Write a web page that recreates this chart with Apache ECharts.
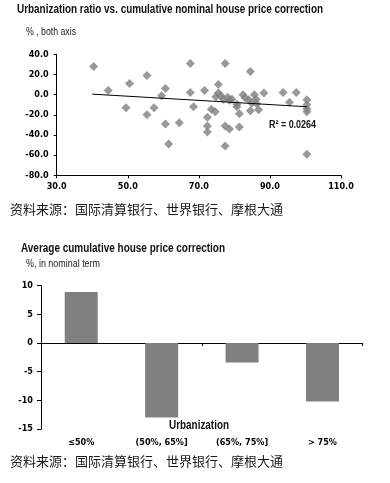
<!DOCTYPE html>
<html>
<head>
<meta charset="utf-8">
<script src="https://cdn.jsdelivr.net/npm/echarts@6/dist/echarts.min.js"></script>
<style>
html,body{margin:0;padding:0;background:#fff;}
#chart{width:390px;height:483px;}
</style>
</head>
<body>
<div id="chart"></div>
<script>
// Scatter: urbanization ratio (%) vs cumulative nominal house price correction (%)
const scatterPoints = [
  [40.4, 28], [44.5, 4], [49.5, -13], [50.5, 11], [55.4, 19], [55.4, -20],
  [57.4, -13], [59.5, -1], [60.6, 6], [60.6, -29], [61.5, -49], [64.5, -28],
  [67.6, 31], [67.6, 2], [68.5, -12], [71.6, 4], [72.4, -22.5], [72.4, -31],
  [72.4, -37], [73.5, -14.5], [74.6, -17], [75.5, 10], [75.5, 1.5], [74.8, -2],
  [76.2, -1], [76.9, -4.5], [78.1, -2.5], [79.3, -4.5], [78.6, -5.5], [77.4, 31],
  [77.4, -31], [78.6, -34], [77.4, -51], [80.7, -9.5], [80.7, -12], [81.4, -19],
  [81.4, -32], [82.4, 0], [83, -3], [84, -5], [84.9, -8.5], [84.5, 23],
  [84.5, -16], [85.6, 0], [86.1, -4.5], [86.3, -9], [86.8, -15], [88.3, 1.5],
  [93.7, 2], [95.5, -7.5], [97.4, 2], [100.4, -5], [100.4, -10], [100.4, -14],
  [100.4, -17], [100.4, -59]
];
const trendLine = [[40, 0.5], [100.4, -12]];
const rSquaredText = 'R\u00B2 = 0.0264';

// Bar chart: average cumulative house price correction by urbanization bucket
const barCategories = ['\u226450%', '(50%, 65%]', '(65%, 75%]', '> 75%'];
const barValues = [8.9, -13.0, -3.4, -10.2];

const AXFONT = "'DejaVu Sans Condensed','Liberation Sans',sans-serif";
const TFONT = "'Liberation Sans','Arial',sans-serif";
const CJK = "'Noto Sans CJK SC','Noto Sans',sans-serif";
const sourceText = '资料来源：国际清算银行、世界银行、摩根大通';

const measureCtx = document.createElement('canvas').getContext('2d');
// Narrow text element: horizontally scaled to the target width of the reference
function narrowText(text, x, y, font, targetWidth, fill, align) {
  measureCtx.font = font;
  const w = measureCtx.measureText(text).width;
  const s = targetWidth / w;
  return {
    type: 'text', x: x, y: y, scaleX: s, scaleY: 1,
    style: {text: text, font: font, fill: fill, align: align || 'left', verticalAlign: 'middle'}
  };
}

const chart = echarts.init(document.getElementById('chart'), null, {renderer: 'canvas'});

const axisLabelBold = {color: '#000', fontFamily: AXFONT, fontWeight: 'bold', fontSize: 9};

chart.setOption({
  animation: false,
  backgroundColor: '#fff',
  title: [
    {text: sourceText, left: 10, top: 203, padding: 0,
     textStyle: {fontFamily: CJK, fontWeight: 'normal', fontSize: 13, color: '#1a1a1a'}},
    {text: sourceText, left: 10, top: 455, padding: 0,
     textStyle: {fontFamily: CJK, fontWeight: 'normal', fontSize: 13, color: '#1a1a1a'}}
  ],
  graphic: [
    narrowText('Urbanization ratio vs. cumulative nominal house price correction', 17, 10, 'bold 12px ' + TFONT, 306, '#111'),
    narrowText('% , both axis', 26, 32, '10px ' + TFONT, 50, '#222'),
    narrowText('Average cumulative house price correction', 21, 249, 'bold 12px ' + TFONT, 204, '#111'),
    narrowText('%, in nominal term', 26, 264.5, '10px ' + TFONT, 74, '#222'),
    narrowText('Urbanization', 169, 426, 'bold 12px ' + TFONT, 60, '#111'),
    narrowText(rSquaredText, 269, 125, 'bold 11px ' + TFONT, 47, '#111')
  ],
  grid: [
    {left: 56.7, top: 54.3, width: 284.3, height: 121},
    {left: 41, top: 285.7, width: 321.7, height: 143.3}
  ],
  xAxis: [
    {gridIndex: 0, type: 'value', min: 30, max: 110, interval: 20,
     axisLine: {show: true, onZero: false, lineStyle: {color: '#000', width: 1}},
     axisTick: {show: true, length: 3, lineStyle: {color: '#000'}},
     axisLabel: Object.assign({margin: 7, formatter: v => v.toFixed(1)}, axisLabelBold),
     splitLine: {show: false}},
    {gridIndex: 1, type: 'category', data: barCategories, position: 'bottom',
     axisLine: {show: true, onZero: true, lineStyle: {color: '#000', width: 1}},
     axisTick: {show: true, length: 3, lineStyle: {color: '#000'}},
     axisLabel: {show: false}, splitLine: {show: false}},
    {gridIndex: 1, type: 'category', data: barCategories, position: 'bottom',
     axisLine: {show: false, onZero: false}, axisTick: {show: false},
     axisLabel: Object.assign({margin: 9}, axisLabelBold), splitLine: {show: false}}
  ],
  yAxis: [
    {gridIndex: 0, type: 'value', min: -80, max: 40, interval: 20,
     axisLine: {show: true, onZero: false, lineStyle: {color: '#000', width: 1}},
     axisTick: {show: true, length: 3, lineStyle: {color: '#000'}},
     axisLabel: Object.assign({margin: 8, formatter: v => v.toFixed(1)}, axisLabelBold),
     splitLine: {show: false}},
    {gridIndex: 1, type: 'value', min: -15, max: 10, interval: 5,
     axisLine: {show: true, onZero: false, lineStyle: {color: '#000', width: 1}},
     axisTick: {show: true, length: 4, lineStyle: {color: '#000'}},
     axisLabel: Object.assign({margin: 8}, axisLabelBold),
     splitLine: {show: false}}
  ],
  series: [
    {type: 'scatter', xAxisIndex: 0, yAxisIndex: 0, data: scatterPoints,
     symbol: 'diamond', symbolSize: 9, itemStyle: {color: '#808080'}, z: 2},
    {type: 'line', xAxisIndex: 0, yAxisIndex: 0, data: trendLine, symbol: 'none',
     lineStyle: {color: '#000', width: 1}, z: 3},
    {type: 'bar', xAxisIndex: 1, yAxisIndex: 1, data: barValues, barWidth: 33,
     itemStyle: {color: '#808080'}}
  ]
});
</script>
</body>
</html>
